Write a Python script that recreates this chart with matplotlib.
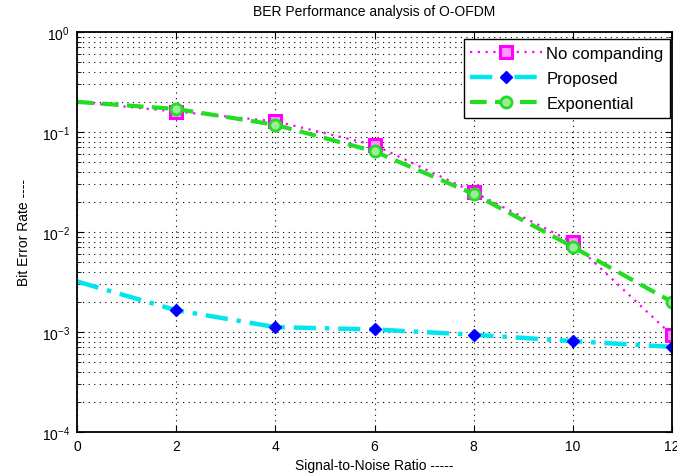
import numpy as np
import matplotlib.pyplot as plt
from matplotlib.ticker import LogLocator, NullFormatter

snr = [0, 2, 4, 6, 8, 10, 12]
ber_none = [0.20, 0.16, 0.128, 0.074, 0.025, 0.0079, 0.00093]
ber_proposed = [0.0032, 0.00165, 0.00112, 0.00106, 0.00094, 0.00081, 0.00071]
ber_exp = [0.20, 0.17, 0.118, 0.064, 0.024, 0.0071, 0.0020]

plt.rcParams['font.family'] = ['Liberation Sans', 'DejaVu Sans']

fig = plt.figure(figsize=(6.77, 4.77), dpi=100)
ax = fig.add_axes([77 / 677, 44 / 477, 595 / 677, 400 / 477])

# no marker drawn at snr = 0 in the original
mk = list(range(1, len(snr)))
ax.semilogy(snr, ber_none, color='#ff00ff', lw=1.6, ls=(0, (1, 2.5)),
            marker='s', ms=8, markevery=mk,
            mfc='#ff99ff', mec='#ff00ff', mew=2.2, label='No companding')
ax.semilogy(snr, ber_proposed, color='#00e5ee', lw=3.2,
            ls=(0, (5, 2, 1, 2)), marker='D', ms=6, markevery=mk,
            mfc='#0000ff', mec='#0000ff', label='Proposed')
ax.semilogy(snr, ber_exp, color='#22dd22', lw=3, ls=(0, (4, 2)),
            marker='o', ms=8, markevery=mk,
            mfc='#99ee99', mec='#22dd22', mew=2, label='Exponential')

ax.set_xlim(0, 12)
ax.set_ylim(1e-4, 1)
ax.set_xticks(snr)
ax.yaxis.set_major_locator(LogLocator(base=10))
ax.yaxis.set_minor_locator(LogLocator(base=10, subs=np.arange(2, 10)))
ax.yaxis.set_minor_formatter(NullFormatter())

grid_kw = dict(linestyle=(0, (1, 4)), color='black', lw=0.8)
ax.grid(True, which='major', **grid_kw)
ax.grid(True, which='minor', axis='y', **grid_kw)
ax.tick_params(which='both', direction='in', top=True, right=True,
               labelsize=10, pad=5)
ax.tick_params(which='major', length=5)
ax.tick_params(which='minor', length=3)
for s in ax.spines.values():
    s.set_linewidth(1.3)

ax.set_title('BER Performance analysis of O-OFDM', fontsize=10, pad=12)
ax.set_xlabel('Signal-to-Noise Ratio -----', fontsize=10, labelpad=4)
ax.set_ylabel('Bit Error Rate ----', fontsize=10, labelpad=8)

leg = ax.legend(loc='upper right', bbox_to_anchor=(0.997, 0.982),
                fontsize=12, fancybox=False, framealpha=1,
                edgecolor='black', handlelength=4.3, borderaxespad=0,
                labelspacing=0.6, borderpad=0.4, handletextpad=0.25)
leg.get_frame().set_linewidth(1.0)

fig.savefig('out.png', dpi=100)
